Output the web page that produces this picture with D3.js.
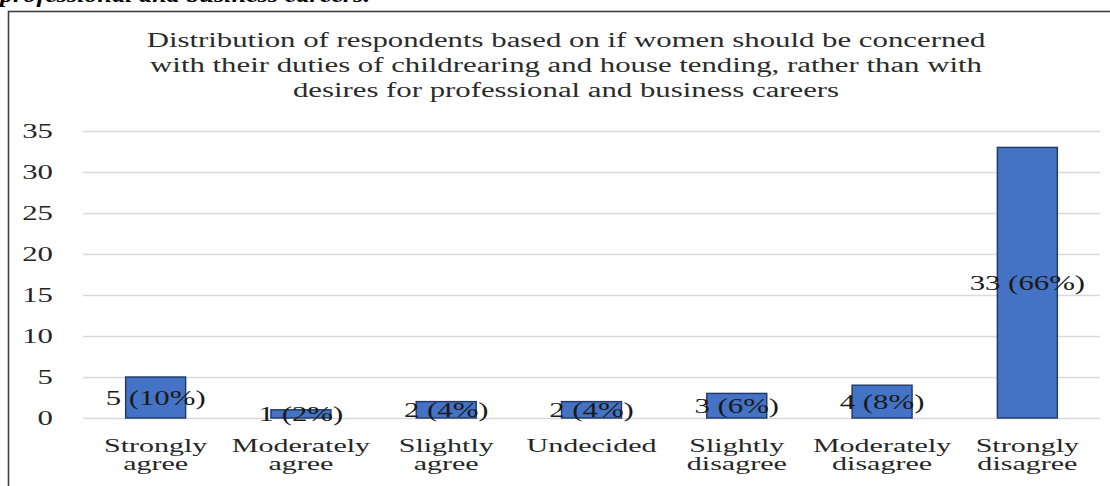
<!DOCTYPE html>
<html>
<head>
<meta charset="utf-8">
<script src="https://cdn.jsdelivr.net/npm/d3@7"></script>
<style>
  html, body { margin: 0; padding: 0; background: #fff; overflow: hidden; }
  svg { display: block; }
  text { font-family: "Liberation Serif", "Times New Roman", serif; }
</style>
</head>
<body>
<script>
// ---- data ----
const categories = ["Strongly agree", "Moderately agree", "Slightly agree", "Undecided",
                    "Slightly disagree", "Moderately disagree", "Strongly disagree"];
const counts = [5, 1, 2, 2, 3, 4, 33];
const percents = [10, 2, 4, 4, 6, 8, 66];
const yTicks = [0, 5, 10, 15, 20, 25, 30, 35];
const titleLines = [
  "Distribution of respondents based on if women should be concerned",
  "with their duties of childrearing and house tending, rather than with",
  "desires for professional and business careers"
];
const captionText = "professional and business careers.";

// ---- layout ----
const W = 1110, H = 486;
const SX = 1.54;          // horizontal stretch of the text in the picture
const FS = 20;
const plot = { left: 83, right: 1100, top: 131, bottom: 418 };

const svg = d3.select("body").append("svg").attr("width", W).attr("height", H);
svg.append("rect").attr("width", W).attr("height", H).attr("fill", "#fff");

function stretchedText(g, x, y, str, anchor, size) {
  return g.append("text")
    .attr("transform", `translate(${x},${y}) scale(${SX},1)`)
    .attr("text-anchor", anchor || "middle")
    .attr("font-size", size || FS)
    .text(str);
}

// caption cut off at the top (as in the source picture)
svg.append("text")
  .attr("x", 0).attr("y", 2)
  .attr("font-size", 20).attr("font-weight", "bold").attr("font-style", "italic")
  .attr("textLength", 370).attr("lengthAdjust", "spacingAndGlyphs")
  .attr("fill", "#000")
  .text(captionText);

// chart frame
svg.append("rect")
  .attr("x", 8.5).attr("y", 11.5)
  .attr("width", W + 20).attr("height", H + 20)
  .attr("fill", "none").attr("stroke", "#404040").attr("stroke-width", 1.6);

// title
const tg = svg.append("g").attr("fill", "#2b2b2b");
titleLines.forEach((t, i) => stretchedText(tg, 566, 46.5 + i * 25, t));

// scales
const x = d3.scaleBand().domain(categories).range([plot.left, plot.right])
  .paddingInner(0.587).paddingOuter(0.2935);
const y = d3.scaleLinear().domain([0, 35]).range([plot.bottom, plot.top]);

// gridlines
svg.append("g").selectAll("line").data(yTicks).join("line")
  .attr("x1", plot.left).attr("x2", plot.right)
  .attr("y1", d => Math.round(y(d)) + 0.5).attr("y2", d => Math.round(y(d)) + 0.5)
  .attr("stroke", "#d9d9d9").attr("stroke-width", 1.3);

// y tick labels
const yg = svg.append("g").attr("fill", "#262626");
yTicks.forEach(t => stretchedText(yg, 53, y(t) + 7, String(t), "end"));

// bars
svg.append("g").selectAll("rect").data(categories).join("rect")
  .attr("x", d => x(d))
  .attr("y", (d, i) => y(counts[i]))
  .attr("width", x.bandwidth())
  .attr("height", (d, i) => y(0) - y(counts[i]))
  .attr("fill", "#4472C4")
  .attr("stroke", "#203864").attr("stroke-width", 1.4);

// data labels
const lg = svg.append("g").attr("fill", "#1a1a1a");
categories.forEach((c, i) => {
  const cx = x(c) + x.bandwidth() / 2;
  const cy = (y(counts[i]) + y(0)) / 2;
  stretchedText(lg, cx, cy + 7, `${counts[i]} (${percents[i]}%)`);
});

// category labels (wrapped onto two lines, tight line spacing as in the source)
const cg = svg.append("g").attr("fill", "#262626");
categories.forEach(c => {
  const cx = x(c) + x.bandwidth() / 2;
  c.split(" ").forEach((w, j) => stretchedText(cg, cx, 451.5 + j * 18.8, w, "middle", 19.5));
});
</script>
</body>
</html>
